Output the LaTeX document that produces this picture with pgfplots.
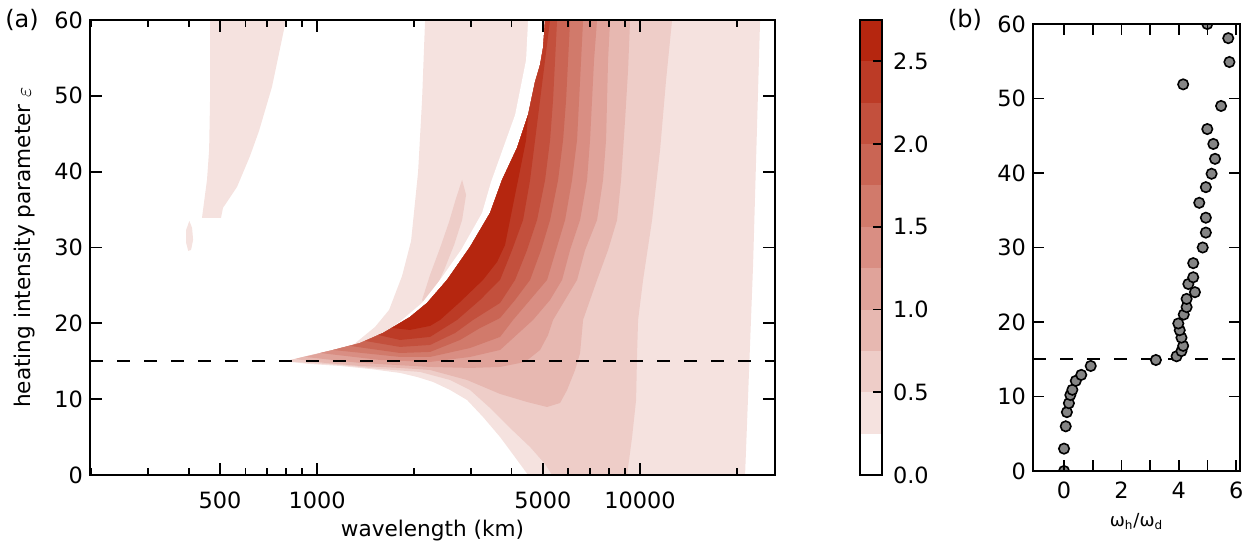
\documentclass[border=0pt]{standalone}
\usepackage{fontspec}
\setmainfont{DejaVu Sans}
\usepackage{pgfplots}
\pgfplotsset{compat=1.18}
\definecolor{c1}{HTML}{F5E2DF}
\definecolor{c2}{HTML}{EECDC8}
\definecolor{c3}{HTML}{E7B8B1}
\definecolor{c4}{HTML}{E0A39A}
\definecolor{c5}{HTML}{D98E83}
\definecolor{c6}{HTML}{D17A6B}
\definecolor{c7}{HTML}{CA6554}
\definecolor{c8}{HTML}{C3503D}
\definecolor{c9}{HTML}{BC3B26}
\definecolor{c10}{HTML}{B5260F}
\definecolor{dotgray}{HTML}{858585}
\pgfplotsset{
  myaxis/.style={
    scale only axis, axis on top,
    tick align=inside,
    every tick/.style={black, line width=0.9pt},
    axis line style={line width=1pt},
    major tick length=6pt, minor tick length=3.5pt,
    tick label style={font=\fontsize{11.2}{13}\selectfont},
    label style={font=\fontsize{10.8}{13}\selectfont},
    /pgf/number format/assume math mode=true,
  },
  dashline/.style={black, line width=1.2pt, dash pattern=on 6.5pt off 7pt},
}
\begin{document}
\begin{tikzpicture}
\useasboundingbox (0,0) rectangle (625.5pt,271pt);
% ---------------- panel (a)
\begin{axis}[myaxis, at={(45pt,33.5pt)}, anchor=south west,
  width=342.5pt, height=227.5pt,
  xmode=log, xmin=198, xmax=26200, ymin=0, ymax=60,
  xtick={500,1000,5000,10000}, xticklabels={500,1000,5000,10000},
  minor xtick={200,300,400,600,700,800,900,2000,3000,4000,6000,7000,8000,9000,20000},
  ytick={0,10,20,30,40,50,60},
  xticklabel style={yshift=-5pt},
  xlabel={wavelength (km)},
  ylabel={heating intensity parameter $\varepsilon$},
  xlabel style={at={(axis description cs:0.5,-0.122)}, anchor=center},
  ylabel style={at={(axis description cs:-0.095,0.5)}, anchor=center},
]
% level >= 0.25
\addplot[fill=c1, draw=none] coordinates {(2160,60) (23552,60) (22405,27.70) (21162,0) (4503,0) (4163,1.98) (3688,5.01) (3266,7.65) (2914,9.89) (2582,11.21) (2287,12.27) (2040,12.93) (1807,13.46) (1459,13.98) (1178,14.38) (951,14.64) (785,15) (1036,15.83) (1293,17.15) (1512,19.53) (1671,21.77) (1833,26.25) (1955,30.87) (2055,39.97) (2114,49.47)} --cycle;
\addplot[fill=c1, draw=none] coordinates {(466,60) (466,49.47) (463,42.88) (456,38.92) (450,37.07) (440,33.91) (504,33.91) (511,35.22) (565,37.99) (620,42.08) (661,45.38) (725,51.19) (801,60)} --cycle;
\addplot[fill=c1, draw=none] coordinates {(402,33.51) (410,32.59) (413,31.00) (407,29.68) (399,29.55) (393,30.61) (393,32.32)} --cycle;
% finger >= 0.5
\addplot[fill=c2, draw=none] coordinates {(2813,38.92) (2893,36.94) (2813,33.64) (2657,30.34) (2474,27.04) (2303,24.14) (2160,22.43) (2114,23.09) (2238,26.39) (2404,29.95) (2563,33.38) (2695,36.54)} --cycle;
% gap < 0.25
\addplot[fill=white, draw=none] coordinates {(4503,60) (4439,54.75) (4104,47.49) (3458,38.65) (3244,34.56) (2793,29.68) (2404,25.73) (2114,22.69) (1833,20.45) (1683,19.26) (1941,20.84) (2191,22.69) (2527,25.73) (2977,30.08) (3434,34.56) (3741,38.92) (4163,43.14) (4503,47.49) (4733,51.85) (4905,54.09) (5011,56.33) (5083,60)} --cycle;
% level >= 0.5
\addplot[fill=c2, draw=none] coordinates {(796,15) (951,14.78) (1178,14.51) (1567,13.98) (2084,13.59) (2582,12.53) (2977,11.21) (3434,8.84) (3960,6.20) (4568,3.69) (5083,1.45) (5343,0) (9122,0) (9454,5.01) (9727,9.89) (9797,16.09) (9867,20.45) (10225,25.73) (10903,33.64) (11542,42.88) (12048,52.11) (12573,60) (5083,60) (5011,56.33) (4905,54.09) (4733,51.85) (4503,47.49) (4163,43.14) (3741,38.92) (3434,34.56) (2977,30.08) (2527,25.73) (2191,22.69) (1941,20.84) (1601,18.73) (1359,17.41) (1121,16.49) (905,15.57)} --cycle;
% level >= 0.75
\addplot[fill=c3, draw=none] coordinates {(855,15.30) (1059,14.78) (1359,14.38) (1807,14.12) (2238,13.85) (2914,12.53) (3688,10.69) (4471,9.63) (5156,8.97) (5657,9.50) (5947,11.21) (6296,13.85) (6524,16.09) (6665,20.45) (7006,23.09) (7365,25.73) (7967,29.68) (8494,33.64) (8740,38.92) (8993,46.83) (9187,53.43) (9319,60) (5083,60) (5011,56.33) (4905,54.09) (4733,51.85) (4503,47.49) (4163,43.14) (3741,38.92) (3434,34.56) (2977,30.08) (2527,25.73) (2191,22.69) (1941,20.84) (1601,18.73) (1359,17.41) (1121,16.49) (905,15.57)} --cycle;
% level >= 1.0
\addplot[fill=c4, draw=none] coordinates {(918,15.57) (1359,14.78) (2238,14.25) (2977,14.12) (3688,14.25) (4408,14.91) (4905,16.49) (5193,18.47) (5381,20.45) (5863,23.09) (6386,25.73) (6761,29.68) (7365,33.64) (7687,38.92) (7854,44.20) (7910,49.47) (7967,54.75) (8081,60) (5083,60) (5011,56.33) (4905,54.09) (4733,51.85) (4503,47.49) (4163,43.14) (3741,38.92) (3434,34.56) (2977,30.08) (2527,25.73) (2191,22.69) (1941,20.84) (1601,18.73) (1359,17.41) (1121,16.49)} --cycle;
% level >= 1.25
\addplot[fill=c5, draw=none] coordinates {(1022,16.09) (1567,15.17) (2238,14.91) (2977,15.57) (3688,16.49) (4666,20.45) (5268,23.09) (5738,25.73) (6076,29.68) (6524,33.64) (6858,38.92) (7006,44.20) (7107,49.47) (7209,54.75) (7365,60) (5083,60) (5011,56.33) (4905,54.09) (4733,51.85) (4503,47.49) (4163,43.14) (3741,38.92) (3434,34.56) (2977,30.08) (2527,25.73) (2191,22.69) (1941,20.84) (1601,18.73) (1359,17.41) (1121,16.49)} --cycle;
% level >= 1.5
\addplot[fill=c6, draw=none] coordinates {(1121,16.49) (1807,15.57) (2238,15.57) (2977,16.75) (3688,18.21) (4046,20.45) (4568,23.09) (5156,25.73) (5498,29.68) (5863,33.64) (6162,38.92) (6386,44.20) (6478,49.47) (6571,54.75) (6665,60) (5083,60) (5011,56.33) (4905,54.09) (4733,51.85) (4503,47.49) (4163,43.14) (3741,38.92) (3434,34.56) (2977,30.08) (2527,25.73) (2191,22.69) (1941,20.84) (1601,18.73) (1359,17.41)} --cycle;
% level >= 1.75
\addplot[fill=c7, draw=none] coordinates {(1265,17.02) (1807,16.09) (2238,16.23) (2773,17.81) (3198,19.39) (3688,20.71) (4104,23.09) (4568,25.73) (4940,29.68) (5268,33.64) (5577,38.92) (5780,44.20) (5905,49.47) (5990,54.75) (6076,60) (5083,60) (5011,56.33) (4905,54.09) (4733,51.85) (4503,47.49) (4163,43.14) (3741,38.92) (3434,34.56) (2977,30.08) (2527,25.73) (2191,22.69) (1941,20.84) (1601,18.73) (1359,17.41)} --cycle;
% level >= 2.0
\addplot[fill=c8, draw=none] coordinates {(1408,17.68) (1807,16.89) (2238,17.15) (2676,18.73) (3042,20.45) (3688,22.69) (4104,25.73) (4471,29.68) (4801,33.64) (5083,38.92) (5268,44.20) (5381,49.47) (5459,54.75) (5537,60) (5083,60) (5011,56.33) (4905,54.09) (4733,51.85) (4503,47.49) (4163,43.14) (3741,38.92) (3434,34.56) (2977,30.08) (2527,25.73) (2191,22.69) (1941,20.84) (1601,18.73)} --cycle;
% level >= 2.25
\addplot[fill=c9, draw=none] coordinates {(1545,18.47) (1807,17.81) (2238,18.21) (2714,20.45) (3198,23.09) (3688,25.73) (4017,29.68) (4345,33.64) (4568,38.92) (4733,44.20) (4905,49.47) (5083,54.75) (5268,60) (5083,60) (5011,56.33) (4905,54.09) (4733,51.85) (4503,47.49) (4163,43.14) (3741,38.92) (3434,34.56) (2977,30.08) (2527,25.73) (2191,22.69) (1941,20.84) (1601,18.73)} --cycle;
% level >= 2.5
\addplot[fill=c10, draw=none] coordinates {(1707,19.39) (1941,19.13) (2238,19.66) (2404,20.45) (2773,22.82) (3266,25.73) (3610,28.10) (3821,30.34) (3960,33.64) (4133,37.60) (4314,41.56) (4439,44.20) (4503,47.49) (4163,43.14) (3741,38.92) (3434,34.56) (2977,30.08) (2527,25.73) (2191,22.69) (1941,20.84)} --cycle;
\addplot[dashline] coordinates {(198,15) (26200,15)};
\end{axis}
% ---------------- colour bar
\begin{axis}[myaxis, at={(430pt,33.5pt)}, anchor=south west,
  width=11pt, height=227.5pt,
  xmin=0, xmax=1, ymin=0, ymax=2.75,
  xtick=\empty, ytick={0,0.5,1,1.5,2,2.5},
  ytick pos=right, yticklabel pos=right, major tick length=4.5pt,
  yticklabel style={/pgf/number format/fixed, /pgf/number format/fixed zerofill, /pgf/number format/precision=1, xshift=2pt},
]
\addplot[fill=white, draw=none] coordinates {(0,0) (1,0) (1,0.25) (0,0.25)} --cycle;
\addplot[fill=c1, draw=none] coordinates {(0,0.25) (1,0.25) (1,0.5) (0,0.5)} --cycle;
\addplot[fill=c2, draw=none] coordinates {(0,0.5) (1,0.5) (1,0.75) (0,0.75)} --cycle;
\addplot[fill=c3, draw=none] coordinates {(0,0.75) (1,0.75) (1,1.0) (0,1.0)} --cycle;
\addplot[fill=c4, draw=none] coordinates {(0,1.0) (1,1.0) (1,1.25) (0,1.25)} --cycle;
\addplot[fill=c5, draw=none] coordinates {(0,1.25) (1,1.25) (1,1.5) (0,1.5)} --cycle;
\addplot[fill=c6, draw=none] coordinates {(0,1.5) (1,1.5) (1,1.75) (0,1.75)} --cycle;
\addplot[fill=c7, draw=none] coordinates {(0,1.75) (1,1.75) (1,2.0) (0,2.0)} --cycle;
\addplot[fill=c8, draw=none] coordinates {(0,2.0) (1,2.0) (1,2.25) (0,2.25)} --cycle;
\addplot[fill=c9, draw=none] coordinates {(0,2.25) (1,2.25) (1,2.5) (0,2.5)} --cycle;
\addplot[fill=c10, draw=none] coordinates {(0,2.5) (1,2.5) (1,2.75) (0,2.75)} --cycle;
\end{axis}
% ---------------- panel (b)
\begin{axis}[myaxis, at={(516.5pt,35.5pt)}, anchor=south west,
  width=103.5pt, height=223.5pt,
  xmin=-1.08, xmax=6.13, ymin=0, ymax=60,
  xtick={0,1,2,3,4,5,6}, xticklabels={0,,2,,4,,6},
  ytick={0,10,20,30,40,50,60},
  major tick length=5.5pt,
  xticklabel style={yshift=-2pt},
  xlabel={ω\textsubscript{h}/ω\textsubscript{d}},
  xlabel style={font=\fontsize{9}{11}\selectfont, at={(axis description cs:0.5,-0.114)}, anchor=center},
  clip marker paths=true,
]
\addplot[dashline] coordinates {(-1.08,15) (6.13,15)};
\addplot[only marks, mark=*, mark size=2.6pt, mark options={fill=dotgray, draw=black, line width=0.8pt}] coordinates {
(0,0) (0,3) (0.06,6) (0.1,7.9) (0.17,9.1) (0.22,10.2) (0.29,10.9) (0.41,12.1) (0.6,12.9) (0.93,14.1)
(3.2,14.9) (3.92,15.4) (4.09,16.1) (4.15,16.8) (4.09,17.9) (4.03,18.9) (3.98,19.8) (4.17,21.0) (4.27,22.0)
(4.27,23.1) (4.56,24.0) (4.33,25.1) (4.5,26.0) (4.5,27.9) (4.83,30.0) (4.94,32.0) (4.94,34.0) (4.71,36.0)
(4.94,38.1) (5.14,39.9) (5.26,41.9) (5.2,43.9) (4.99,45.9) (5.47,49.0) (4.15,51.9) (5.76,54.9) (5.72,58.1) (4.99,60)};
\end{axis}
\node[font=\fontsize{12}{14}\selectfont] at (11pt,261pt) {(a)};
\node[font=\fontsize{12}{14}\selectfont] at (482.5pt,261pt) {(b)};
\end{tikzpicture}
\end{document}
